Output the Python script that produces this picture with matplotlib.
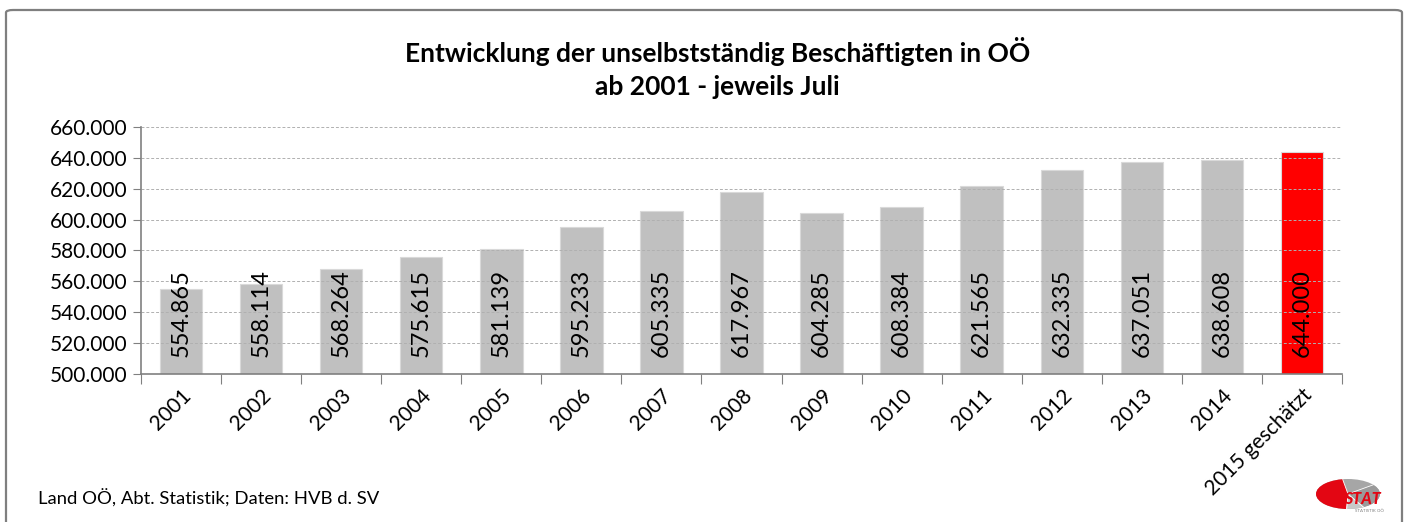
import matplotlib
matplotlib.use("Agg")
import matplotlib.pyplot as plt
import matplotlib.patches as mpatches
import numpy as np

plt.rcParams['font.family'] = ['Lato', 'DejaVu Sans']

# Daten: unselbstständig Beschäftigte OÖ, jeweils Juli
jahre = ["2001", "2002", "2003", "2004", "2005", "2006", "2007", "2008",
         "2009", "2010", "2011", "2012", "2013", "2014", "2015 geschätzt"]
beschaeftigte = [554865, 558114, 568264, 575615, 581139, 595233, 605335, 617967,
                 604285, 608384, 621565, 632335, 637051, 638608, 644000]
y_ticks = [500000, 520000, 540000, 560000, 580000, 600000, 620000, 640000, 660000]


def fmt(v):
    return f"{v:,.0f}".replace(",", ".")


fig = plt.figure(figsize=(14.13, 5.22), dpi=100)

# Rahmen um das Diagramm
frame = mpatches.FancyBboxPatch((6 / 1413, -0.05), 1396 / 1413, 1.05 - 10 / 522,
                                boxstyle="round,pad=0,rounding_size=0.005",
                                transform=fig.transFigure, fill=False,
                                edgecolor="#7f7f7f", linewidth=1.6)
fig.patches.append(frame)

ax = fig.add_axes([141 / 1413, 1 - 374 / 522, 1201 / 1413, 247 / 522])

x = np.arange(len(jahre))
farben = ["#c0c0c0"] * (len(jahre) - 1) + ["#ff0000"]
ax.bar(x, beschaeftigte, width=0.53, bottom=0, color=farben,
       edgecolor="#d9d9d9", linewidth=0.8, zorder=2)

ax.set_ylim(500000, 660000)
ax.set_xlim(-0.5, len(jahre) - 0.5)
ax.set_yticks(y_ticks)
ax.set_yticklabels([fmt(v) for v in y_ticks], fontsize=15)
ax.yaxis.grid(True, linestyle=(0, (3, 2)), color="#b0b0b0", linewidth=0.7, zorder=3)
ax.set_axisbelow(False)

# Kategorien-Ticks zwischen den Balken
ax.set_xticks(np.arange(-0.5, len(jahre), 1.0), minor=False)
ax.set_xticklabels([])
ax.set_xticks(x, minor=True)
ax.set_xticklabels(jahre, minor=True, rotation=45, ha="right", va="top",
                   rotation_mode="anchor", fontsize=15)
ax.tick_params(axis="x", which="minor", length=0, pad=8)
ax.tick_params(axis="x", which="major", length=7, color="#808080")
ax.tick_params(axis="y", length=6, color="#808080", pad=4)

for s in ["top", "right"]:
    ax.spines[s].set_visible(False)
for s in ["left", "bottom"]:
    ax.spines[s].set_color("#808080")
    ax.spines[s].set_linewidth(1.2)

for xi, v in zip(x, beschaeftigte):
    ax.annotate(fmt(v), xy=(xi, 500000), xytext=(0, 12), textcoords="offset points",
                rotation=90, ha="center", va="bottom", fontsize=17, zorder=4)

fig.text(0.508, 1 - 52 / 522, "Entwicklung der unselbstständig Beschäftigten in OÖ",
         ha="center", va="center", fontsize=19, fontweight="bold")
fig.text(0.508, 1 - 87 / 522, "ab 2001 - jeweils Juli",
         ha="center", va="center", fontsize=19, fontweight="bold")

fig.text(38 / 1413, 1 - 498 / 522, "Land OÖ, Abt. Statistik; Daten: HVB d. SV",
         ha="left", va="center", fontsize=13.3)

# kleines STAT-Logo (Pixel-Koordinaten in einer eigenen Achse)
lax = fig.add_axes([1310 / 1413, 1 - 518 / 522, 90 / 1413, 44 / 522])
lax.set_xlim(1310, 1400)
lax.set_ylim(518, 474)
lax.axis("off")
ell = mpatches.Ellipse((1348, 494), 64, 30, facecolor="#a6a6a6", edgecolor="none")
lax.add_patch(ell)
for a0, a1, col in [(95, 250, "#e30613"), (40, 95, "#c8c8c8"), (-20, 40, "#9a9a9a")]:
    w = mpatches.Wedge((1348, 494), 40, a0, a1, facecolor=col, edgecolor="white",
                       linewidth=0.6)
    lax.add_patch(w)
    w.set_clip_path(ell)
lax.text(1344, 499, "STAT", color="#e30613", fontsize=11.5, fontweight="black",
         fontstyle="italic", ha="left", va="center")
lax.text(1369, 511, "STATISTIK OÖ", color="#808080", fontsize=3.2,
         ha="center", va="center")

fig.savefig("out.png", dpi=100)
